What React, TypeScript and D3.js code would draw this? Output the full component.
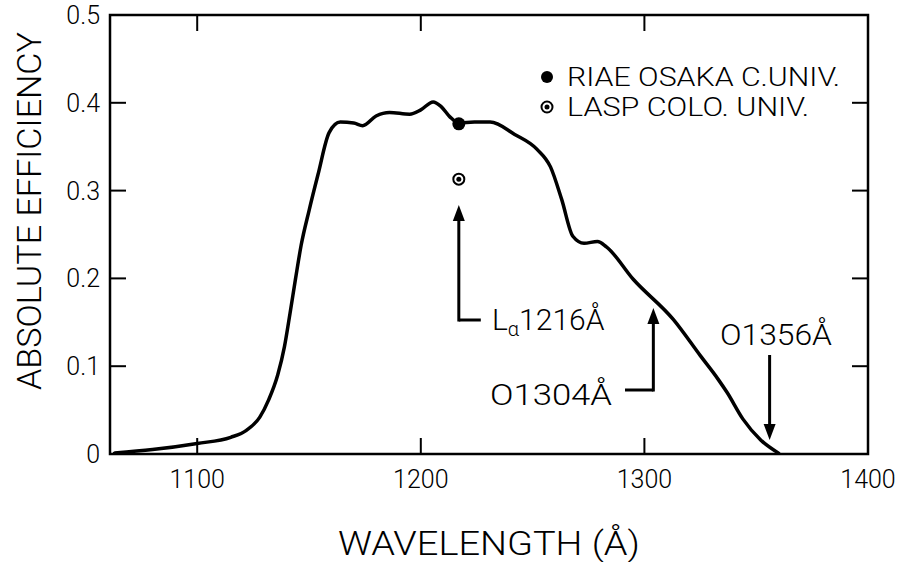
import React from 'react';
import * as d3 from 'd3';

// efficiency curve
const wavelength = [1063, 1080, 1100, 1115, 1122, 1128, 1132, 1136, 1139, 1141.5, 1144, 1146.5, 1150, 1154, 1159, 1164, 1170, 1174, 1180, 1186, 1195, 1200, 1205.5, 1209, 1213, 1217, 1224, 1231, 1242, 1252, 1258, 1263, 1268, 1273, 1279, 1283, 1295, 1313, 1325, 1333, 1337, 1344, 1352, 1360];
const efficiency = [0.001, 0.005, 0.012, 0.019, 0.027, 0.042, 0.062, 0.09, 0.122, 0.16, 0.2, 0.238, 0.277, 0.318, 0.366, 0.378, 0.377, 0.374, 0.385, 0.389, 0.387, 0.392, 0.401, 0.396, 0.384, 0.377, 0.378, 0.378, 0.364, 0.347, 0.327, 0.29, 0.248, 0.24, 0.242, 0.236, 0.199, 0.153, 0.112, 0.085, 0.07, 0.04, 0.016, 0.001];

// measurements at Lyman alpha
const riaePoint = [1217, 0.376];
const laspPoint = [1217, 0.313];

const xTicks = [1100, 1200, 1300, 1400];
const yTicks = [0, 0.1, 0.2, 0.3, 0.4, 0.5];
const yTickLabels = ['0', '0.1', '0.2', '0.3', '0.4', '0.5'];

const legendLabels = ['RIAE OSAKA C.UNIV.', 'LASP COLO. UNIV.'];

const FONT = 'Roboto, "DejaVu Sans", sans-serif';

export default function App() {
  const W = 900, H = 562;
  const left = 110, right = 868, top = 15, bottom = 454;

  const x = d3.scaleLinear().domain([1061, 1400]).range([left, right]);
  const y = d3.scaleLinear().domain([0, 0.5]).range([bottom, top]);

  const line = d3.line<number>()
    .x((_, i) => x(wavelength[i]))
    .y((_, i) => y(efficiency[i]))
    .curve(d3.curveMonotoneX);
  const path = line(efficiency) || '';

  const tickLen = 16;

  // arrow with filled head, tip at (x2,y2)
  const arrow = (x1: number, y1: number, x2: number, y2: number) => {
    const ang = Math.atan2(y2 - y1, x2 - x1);
    const hl = 16, hw = 6;
    const bx = x2 - hl * Math.cos(ang), by = y2 - hl * Math.sin(ang);
    const px = -Math.sin(ang) * hw, py = Math.cos(ang) * hw;
    return (
      <g>
        <line x1={x1} y1={y1} x2={bx} y2={by} stroke="#000" strokeWidth={3} />
        <path d={`M${x2},${y2}L${bx + px},${by + py}L${bx - px},${by - py}Z`} fill="#000" />
      </g>
    );
  };

  const lyaX = x(1217);
  const o1304X = x(1304);
  const o1356X = x(1356);

  return (
    <svg width={W} height={H} style={{ position: 'absolute', left: 0, top: 0, background: '#fff' }} fontFamily={FONT} fontWeight={300}>
      {/* frame */}
      <rect x={left} y={top} width={right - left} height={bottom - top} fill="none" stroke="#000" strokeWidth={2.5} />

      {/* x ticks */}
      {xTicks.filter(t => t < 1400).map(t => (
        <g key={'xt' + t}>
          <line x1={x(t)} x2={x(t)} y1={bottom} y2={bottom - tickLen} stroke="#000" strokeWidth={2} />
          <line x1={x(t)} x2={x(t)} y1={top} y2={top + tickLen} stroke="#000" strokeWidth={2} />
        </g>
      ))}
      {xTicks.map(t => (
        <text key={'xl' + t} x={x(t)} y={488} textAnchor="middle" fontSize={25}>{t}</text>
      ))}

      {/* y ticks */}
      {yTicks.filter(t => t > 0 && t < 0.5).map(t => (
        <g key={'yt' + t}>
          <line x1={left} x2={left + tickLen} y1={y(t)} y2={y(t)} stroke="#000" strokeWidth={2} />
          <line x1={right} x2={right - tickLen} y1={y(t)} y2={y(t)} stroke="#000" strokeWidth={2} />
        </g>
      ))}
      {yTicks.map((t, i) => (
        <text key={'yl' + t} x={100} y={y(t) + 9} textAnchor="end" fontSize={25}>{yTickLabels[i]}</text>
      ))}

      {/* axis titles */}
      <text x={338} y={555} fontSize={33} textLength={302} lengthAdjust="spacingAndGlyphs">WAVELENGTH (Å)</text>
      <text transform={`translate(41,211) rotate(-90)`} textAnchor="middle" fontSize={33} textLength={358} lengthAdjust="spacingAndGlyphs">ABSOLUTE EFFICIENCY</text>

      {/* curve */}
      <path d={path} fill="none" stroke="#000" strokeWidth={3.5} strokeLinejoin="round" strokeLinecap="round" />

      {/* data points */}
      <circle cx={x(riaePoint[0])} cy={y(riaePoint[1])} r={6.5} fill="#000" />
      <circle cx={x(laspPoint[0])} cy={y(laspPoint[1])} r={5.5} fill="#fff" stroke="#000" strokeWidth={2} />
      <circle cx={x(laspPoint[0])} cy={y(laspPoint[1])} r={2.5} fill="#000" />

      {/* legend */}
      <circle cx={547} cy={77} r={6} fill="#000" />
      <text x={567} y={86} fontSize={26} textLength={273} lengthAdjust="spacingAndGlyphs">{legendLabels[0]}</text>
      <circle cx={547} cy={107} r={5.5} fill="#fff" stroke="#000" strokeWidth={2} />
      <circle cx={547} cy={107} r={2.5} fill="#000" />
      <text x={567} y={116} fontSize={26} textLength={242} lengthAdjust="spacingAndGlyphs">{legendLabels[1]}</text>

      {/* Lyman alpha annotation */}
      <line x1={lyaX} x2={lyaX + 22} y1={320} y2={320} stroke="#000" strokeWidth={3} />
      {arrow(lyaX, 321.5, lyaX, 205)}
      <text x={492} y={330} fontSize={30}>
        L<tspan fontSize={20} dy={6}>α</tspan><tspan dy={-6}>1216Å</tspan>
      </text>

      {/* OI 1304 annotation */}
      <line x1={625} x2={o1304X} y1={390} y2={390} stroke="#000" strokeWidth={3} />
      {arrow(o1304X, 391.5, o1304X, 308)}
      <text x={490} y={405} fontSize={30} textLength={122} lengthAdjust="spacingAndGlyphs">O1304Å</text>

      {/* OI 1356 annotation */}
      <text x={720} y={345} fontSize={30} textLength={112} lengthAdjust="spacingAndGlyphs">O1356Å</text>
      {arrow(o1356X, 355, o1356X, 440)}
    </svg>
  );
}
